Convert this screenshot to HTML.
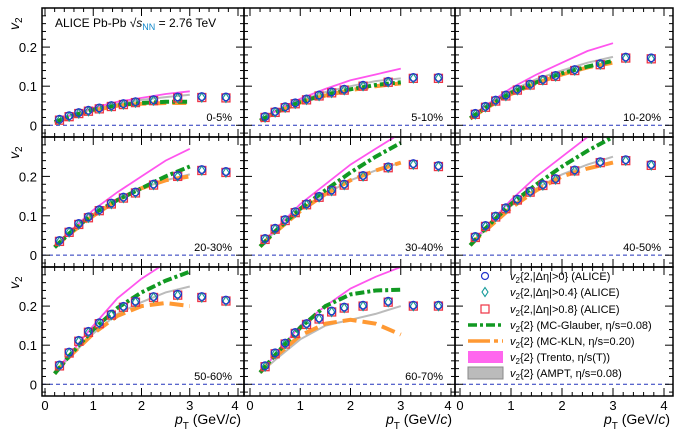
<!DOCTYPE html>
<html><head><meta charset="utf-8"><style>
body{margin:0;background:#fff}
svg{display:block;font-family:"Liberation Sans",sans-serif}
</style></head><body>
<svg id="c" width="686" height="435" viewBox="0 0 686 435"></svg>
<script>
const centLabels=["0-5%","5-10%","10-20%","20-30%","30-40%","40-50%","50-60%","60-70%"];
const dataPt=[0.3,0.5,0.7,0.9,1.125,1.375,1.625,1.875,2.25,2.75,3.25,3.75];
const v2Alice=[
[0.013,0.022,0.03,0.036,0.042,0.048,0.053,0.058,0.063,0.07,0.071,0.07],
[0.02,0.033,0.045,0.055,0.065,0.075,0.083,0.09,0.1,0.11,0.12,0.12],
[0.028,0.046,0.062,0.075,0.09,0.103,0.115,0.125,0.14,0.155,0.172,0.17],
[0.035,0.058,0.078,0.095,0.113,0.13,0.145,0.158,0.178,0.2,0.215,0.21],
[0.04,0.066,0.088,0.108,0.128,0.147,0.163,0.178,0.2,0.222,0.23,0.225],
[0.045,0.073,0.097,0.118,0.14,0.16,0.177,0.192,0.214,0.235,0.24,0.228],
[0.047,0.08,0.11,0.133,0.155,0.177,0.197,0.21,0.222,0.228,0.222,0.213],
[0.045,0.078,0.103,0.13,0.153,0.167,0.185,0.195,0.2,0.21,0.2,0.2]];
const modelPt=[0.2,0.5,1,1.5,2,2.5,3];
const glauber=[
[0.008,0.022,0.04,0.051,0.057,0.06,0.06],
[0.012,0.033,0.06,0.078,0.092,0.103,0.11],
[0.018,0.045,0.083,0.11,0.133,0.15,0.165],
[0.02,0.055,0.105,0.14,0.17,0.2,0.225],
[0.022,0.06,0.118,0.165,0.21,0.25,0.285],
[0.025,0.068,0.13,0.18,0.225,0.265,0.3],
[0.027,0.072,0.14,0.195,0.235,0.265,0.288],
[0.03,0.075,0.145,0.2,0.23,0.24,0.242]];
const kln=[
[0.008,0.02,0.038,0.05,0.055,0.057,0.057],
[0.012,0.032,0.058,0.076,0.09,0.1,0.107],
[0.017,0.043,0.08,0.108,0.13,0.148,0.16],
[0.02,0.053,0.1,0.14,0.17,0.19,0.2],
[0.022,0.058,0.112,0.155,0.19,0.215,0.235],
[0.025,0.063,0.12,0.165,0.2,0.22,0.235],
[0.027,0.07,0.13,0.175,0.2,0.208,0.2],
[0.03,0.07,0.125,0.155,0.165,0.155,0.127]];
const trento=[
[0.01,0.025,0.045,0.06,0.07,0.08,0.087],
[0.015,0.036,0.068,0.093,0.115,0.13,0.145],
[0.02,0.05,0.095,0.13,0.16,0.19,0.21],
[0.022,0.058,0.115,0.16,0.2,0.24,0.27],
[0.025,0.065,0.13,0.18,0.23,0.27,0.31],
[0.027,0.07,0.14,0.2,0.25,0.3,0.34],
[0.03,0.075,0.15,0.22,0.27,0.31,0.35],
[0.03,0.075,0.15,0.2,0.245,0.275,0.3]];
const ampt=[
[0.01,0.023,0.042,0.055,0.065,0.072,0.078],
[0.015,0.035,0.063,0.085,0.1,0.113,0.12],
[0.02,0.048,0.088,0.118,0.14,0.16,0.175],
[0.022,0.055,0.105,0.14,0.17,0.19,0.205],
[0.024,0.06,0.115,0.155,0.19,0.215,0.235],
[0.026,0.065,0.125,0.17,0.205,0.23,0.25],
[0.028,0.068,0.13,0.18,0.21,0.235,0.25],
[0.028,0.062,0.115,0.15,0.165,0.18,0.2]];
const xTicks=[0,1,2,3,4];
const yTicks=[0,0.1,0.2];
const yTickLabels=["0","0.1","0.2"];
const legendLabels=["{2,|\u0394\u03b7|>0} (ALICE)","{2,|\u0394\u03b7|>0.4} (ALICE)","{2,|\u0394\u03b7|>0.8} (ALICE)","{2} (MC-Glauber,  \u03b7/s=0.08)","{2} (MC-KLN,  \u03b7/s=0.20)","{2} (Trento,  \u03b7/s(T))","{2} (AMPT,  \u03b7/s=0.08)"];

const NS="http://www.w3.org/2000/svg";
const svg=document.getElementById('c');
function el(t,a,p){const e=document.createElementNS(NS,t);for(const k in a)e.setAttribute(k,a[k]);(p||svg).appendChild(e);return e;}
const cols=[{l:42,r:244,x0:45,x4:238},{l:244,r:455,x0:250,x4:451},{l:455,r:673,x0:460,x4:664}];
const rows=[{t:8,b:137},{t:137,b:267},{t:267,b:396}];
const YMIN=-0.03,YMAX=0.3;
function panelScales(ci,ri){const c=cols[ci],r=rows[ri];
 return {x:v=>c.x0+(c.x4-c.x0)*v/4,y:v=>r.b-(v-YMIN)/(YMAX-YMIN)*(r.b-r.t),c,r};}
function pathFrom(s,xs,ys){return xs.map((v,i)=>(i?'L':'M')+s.x(v).toFixed(1)+' '+s.y(ys[i]).toFixed(1)).join(' ');}

for(let p=0;p<9;p++){
 const ci=p%3,ri=Math.floor(p/3);const s=panelScales(ci,ri);const c=s.c,r=s.r;
 const g=el('g',{});
 
 
 const cid='clip'+p;
 const cp=el('clipPath',{id:cid},g);el('rect',{x:c.l,y:r.t,width:c.r-c.l,height:r.b-r.t},cp);
 const zl=el('line',{x1:c.l,x2:c.r,y1:s.y(0),y2:s.y(0),stroke:'#2233bb','stroke-width':1,'stroke-dasharray':'4,3'},g);
 
 if(p<8){
  const mg=el('g',{'clip-path':'url(#'+cid+')'},g);
  let e=el('path',{d:pathFrom(s,modelPt,ampt[p]),fill:'none',stroke:'#aaaaaa','stroke-width':2,opacity:0.8},mg);
  
  e=el('path',{d:pathFrom(s,modelPt,trento[p]),fill:'none',stroke:'#ff55ee','stroke-width':1.8},mg);
  
  e=el('path',{d:pathFrom(s,modelPt,kln[p]),fill:'none',stroke:'#ff9933','stroke-width':4,'stroke-dasharray':'14,6'},mg);
  
  e=el('path',{d:pathFrom(s,modelPt,glauber[p]),fill:'none',stroke:'#119922','stroke-width':4,'stroke-dasharray':'9,3,3,3'},mg);
  
  dataPt.forEach((pt,i)=>{const X=s.x(pt),Y=s.y(v2Alice[p][i]);
   let m=el('rect',{x:X-4,y:Y-4,width:8,height:8,fill:'none',stroke:'#ee3344','stroke-width':1.3},g);
   
   m=el('path',{d:`M${X} ${Y-4.5}L${X+3} ${Y}L${X} ${Y+4.5}L${X-3} ${Y}Z`,fill:'none',stroke:'#119999','stroke-width':1.1},g);
   
   m=el('circle',{cx:X,cy:Y-1,r:3.8,fill:'none',stroke:'#2233cc','stroke-width':1.2},g);
   
  });
  const t=el('text',{x:c.r-12,y:r.b-16,'font-size':11,'text-anchor':'end'},g);t.textContent=centLabels[p];
  
 }
 el('rect',{x:c.l,y:r.t,width:c.r-c.l,height:r.b-r.t,fill:'none',stroke:'#000','stroke-width':1.5},g);
 for(let v=0;v<=4.001;v+=0.2){const X=s.x(v);if(X>c.r)break;const L=(Math.abs(v-Math.round(v))<0.01)?8:4;
  el('line',{x1:X,x2:X,y1:r.b,y2:r.b-L,stroke:'#000'},g);el('line',{x1:X,x2:X,y1:r.t,y2:r.t+L,stroke:'#000'},g);}
 for(let k=-1;k<=14;k++){const v=k*0.02;const Y=s.y(v);if(Y<r.t||Y>r.b)continue;const L=(k%5==0)?8:4;
  el('line',{x1:c.l,x2:c.l+L,y1:Y,y2:Y,stroke:'#000'},g);el('line',{x1:c.r,x2:c.r-L,y1:Y,y2:Y,stroke:'#000'},g);}
 if(ci==0){yTicks.forEach((v,i)=>{const t=el('text',{x:37,y:s.y(v)+5,'font-size':13,'text-anchor':'end'},g);t.textContent=yTickLabels[i];
   });
  const yt=el('text',{x:0,y:0,'font-size':14,transform:`translate(19,${r.t+22}) rotate(-90)`,'font-style':'italic'},g);
  yt.innerHTML='v<tspan font-size="10" dy="3" font-style="normal">2</tspan>';
  }
 if(ri==2){xTicks.forEach(v=>{const t=el('text',{x:s.x(v)-(v==4&&ci<2?3:0),y:410,'font-size':13,'text-anchor':'middle'},g);t.textContent=v;
   });
  const xt=el('text',{x:c.r-3,y:424,'font-size':14,'text-anchor':'end'},g);
  xt.innerHTML='<tspan font-style="italic">p</tspan><tspan font-size="10" dy="5">T</tspan><tspan dy="-5"> (GeV/</tspan><tspan font-style="italic">c</tspan>)';
  }
}
const h=el('text',{x:55,y:27,'font-size':12});
h.innerHTML='ALICE Pb-Pb √<tspan font-style="italic">s</tspan><tspan font-size="9" dy="3" fill="#1188cc">NN</tspan><tspan dy="-3"> = 2.76 TeV</tspan>';

const legY=[276,292,309,325,341,357,373];
const lg=el('g',{});
legY.forEach((Y,i)=>{const X=485;
 if(i==0)el('circle',{cx:X,cy:Y,r:3.5,fill:'none',stroke:'#2233cc','stroke-width':1.2},lg);
 if(i==1)el('path',{d:`M${X} ${Y-4.5}L${X+3} ${Y}L${X} ${Y+4.5}L${X-3} ${Y}Z`,fill:'none',stroke:'#119999','stroke-width':1.1},lg);
 if(i==2)el('rect',{x:X-4,y:Y-4,width:8,height:8,fill:'none',stroke:'#ee3344','stroke-width':1.2},lg);
 if(i==3)el('line',{x1:468,x2:503,y1:Y,y2:Y,stroke:'#119922','stroke-width':3.5,'stroke-dasharray':'9,3,3,3'},lg);
 if(i==4)el('line',{x1:468,x2:503,y1:Y,y2:Y,stroke:'#ff9933','stroke-width':3.5,'stroke-dasharray':'22,4,4,4'},lg);
 if(i==5)el('rect',{x:468,y:Y-6,width:35,height:12,fill:'#ff66ee'},lg);
 if(i==6)el('rect',{x:468,y:Y-6,width:35,height:12,fill:'#bbbbbb',stroke:'#888'},lg);
 const t=el('text',{x:510,y:Y+4,'font-size':11},lg);
 t.innerHTML='<tspan font-style="italic">v</tspan><tspan font-size="8" dy="3">2</tspan><tspan dy="-3">'+legendLabels[i].replace(/&/g,'&amp;').replace(/>/g,'&gt;')+'</tspan>';
 
});
</script>
</body></html>
